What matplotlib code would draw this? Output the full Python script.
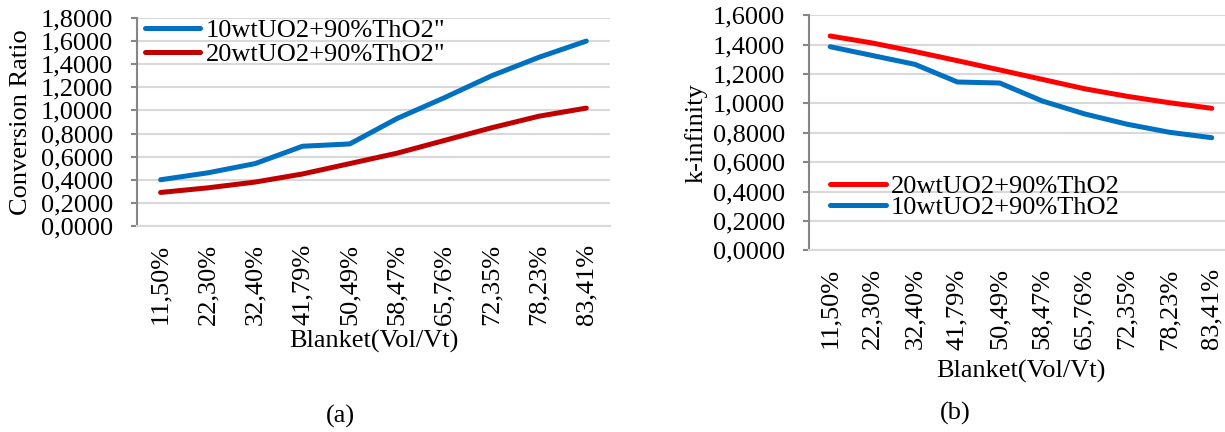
import numpy as np
import matplotlib
matplotlib.use("Agg")
import matplotlib.pyplot as plt
from matplotlib.ticker import FuncFormatter, MultipleLocator

plt.rcParams['font.family'] = 'serif'
plt.rcParams['font.serif'] = ['Liberation Serif', 'DejaVu Serif']

blanket = ["11,50%", "22,30%", "32,40%", "41,79%", "50,49%",
           "58,47%", "65,76%", "72,35%", "78,23%", "83,41%"]

# conversion ratio
cr_10wt = [0.40, 0.46, 0.54, 0.69, 0.71, 0.93, 1.11, 1.30, 1.46, 1.60]
cr_20wt = [0.29, 0.33, 0.38, 0.45, 0.54, 0.63, 0.74, 0.85, 0.95, 1.02]

# k-infinity
kinf_20wt = [1.458, 1.410, 1.352, 1.290, 1.227, 1.163, 1.099, 1.048, 1.004, 0.966]
kinf_10wt = [1.385, 1.325, 1.265, 1.145, 1.138, 1.016, 0.928, 0.858, 0.803, 0.766]

BLUE = "#0070C0"
DARK_RED = "#C00000"
RED = "#FF0000"
GRID = "#D9D9D9"
AXIS = "#868686"
FS = 19


def comma_fmt(v, pos):
    return f"{v:.4f}".replace(".", ",")


def style_axes(ax, ymax):
    x = np.arange(len(blanket))
    ax.set_xlim(-0.5, len(blanket) - 0.5)
    ax.set_ylim(0, ymax)
    ax.yaxis.set_major_locator(MultipleLocator(0.2))
    ax.yaxis.set_major_formatter(FuncFormatter(comma_fmt))
    ax.set_xticks(x)
    ax.set_xticklabels(blanket, rotation=90)
    ax.grid(axis="y", color=GRID, linewidth=1.5)
    ax.set_axisbelow(True)
    for s in ("top", "right"):
        ax.spines[s].set_visible(False)
    ax.spines["bottom"].set_color(GRID)
    ax.spines["bottom"].set_linewidth(1.5)
    ax.spines["left"].set_color(AXIS)
    ax.spines["left"].set_linewidth(1.5)
    ax.tick_params(axis="x", length=0, pad=13, labelsize=FS)
    ax.tick_params(axis="y", length=4.3, width=1.5, color=AXIS, direction="out",
                   pad=13, labelsize=FS)
    ax.set_xlabel("Blanket(Vol/Vt)", fontsize=FS)


def draw_line(ax, y, color, label):
    ax.plot(np.arange(len(y)), y, color=color, lw=3.6, solid_capstyle="round",
            solid_joinstyle="round", label=label)


fig = plt.figure(figsize=(12.25, 4.32), dpi=100)

# (a) conversion ratio
ax1 = fig.add_axes([0.1118, 0.4769, 0.3861, 0.4815])
draw_line(ax1, cr_10wt, BLUE, '10wtUO2+90%ThO2"')
draw_line(ax1, cr_20wt, DARK_RED, '20wtUO2+90%ThO2"')
style_axes(ax1, 1.8)
ax1.set_ylabel("Conversion Ratio", fontsize=FS)
ax1.yaxis.set_label_coords(-0.222, 0.5)
ax1.xaxis.set_label_coords(0.5, -0.50)
ax1.legend(loc="upper left", bbox_to_anchor=(0.017, 0.998), frameon=False,
           fontsize=FS, handlelength=2.1, handletextpad=0.2,
           labelspacing=0.03, borderpad=0, borderaxespad=0)

# (b) k-infinity
ax2 = fig.add_axes([0.6604, 0.4206, 0.3461, 0.5444])
draw_line(ax2, kinf_20wt, RED, "20wtUO2+90%ThO2")
draw_line(ax2, kinf_10wt, BLUE, "10wtUO2+90%ThO2")
style_axes(ax2, 1.6)
ax2.set_ylabel("k-infinity", fontsize=FS)
ax2.yaxis.set_label_coords(-0.24, 0.5)
ax2.xaxis.set_label_coords(0.5, -0.468)
ax2.legend(loc="upper left", bbox_to_anchor=(0.05, 0.323), frameon=False,
           fontsize=FS, handlelength=2.1, handletextpad=0.2,
           labelspacing=-0.08, borderpad=0, borderaxespad=0)

fig.text(340 / 1225, 1 - 416 / 432, "(a)", ha="center", va="center", fontsize=FS)
fig.text(955 / 1225, 1 - 413 / 432, "(b)", ha="center", va="center", fontsize=FS)

fig.savefig("out.png", dpi=100)
